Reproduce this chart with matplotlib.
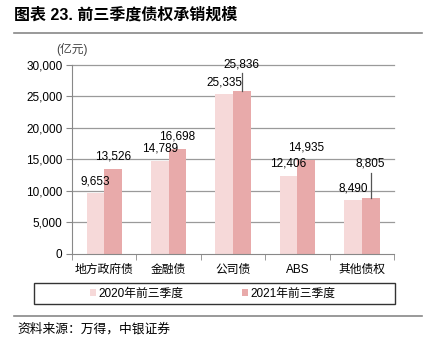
import matplotlib.pyplot as plt
from matplotlib.patches import Rectangle
import numpy as np

plt.rcParams["font.family"] = ["Liberation Sans", "Noto Sans CJK SC"]

categories = ["地方政府债", "金融债", "公司债", "ABS", "其他债权"]
values_2020 = [9653, 14789, 25335, 12406, 8490]
values_2021 = [13526, 16698, 25836, 14935, 8805]
series_names = ["2020年前三季度", "2021年前三季度"]
yticks = [0, 5000, 10000, 15000, 20000, 25000, 30000]

C_2020 = "#F6D9D9"
C_2021 = "#E8AAAA"

fig = plt.figure(figsize=(4.34, 3.45), dpi=100)
ax = fig.add_axes([0.166, 0.264, 0.742, 0.548])

x = np.arange(len(categories))
w = 0.275
b1 = ax.bar(x - w / 2, values_2020, w, color=C_2020, zorder=2)
b2 = ax.bar(x + w / 2, values_2021, w, color=C_2021, zorder=2)

# 数据标签（标签中心距柱顶约 1900）
off = 1900
for i, (v1, v2) in enumerate(zip(values_2020, values_2021)):
    ax.text(x[i] - w / 2, v1 + off, f"{v1:,}", ha="center", va="center",
            fontsize=8.5, zorder=3)
    y2 = v2 + off
    if i == 2:
        # 公司债：标签上移，加引线
        y2 = v2 + 4150
        ax.plot([x[i] + w / 2] * 2, [v2, v2 + 2850], color="#555555",
                lw=0.9, zorder=3)
    elif i == 4:
        # 其他债权：标签上移，加引线
        y2 = v2 + 5550
        ax.plot([x[i] + w / 2] * 2, [v2, v2 + 4100], color="#555555",
                lw=0.9, zorder=3)
    ax.text(x[i] + w / 2, y2, f"{v2:,}", ha="center", va="center",
            fontsize=8.5, zorder=3)

ax.set_xlim(-0.5, len(categories) - 0.5)
ax.set_ylim(0, 30000)
ax.set_yticks(yticks)
ax.set_yticklabels([f"{t:,}" for t in yticks], fontsize=8.5)
ax.set_xticks(x)
ax.set_xticklabels(categories, fontsize=8.5)
ax.set_xticks(np.arange(len(categories) + 1) - 0.5, minor=True)
ax.tick_params(axis="x", which="major", length=0, pad=7)
ax.tick_params(axis="x", which="minor", length=4, color="#888888")
ax.tick_params(axis="y", length=4, color="#888888", pad=3)

for t in yticks[1:]:
    ax.axhline(t, color="#9a9a9a", lw=0.9, zorder=0, clip_on=False)
for s in ["top", "right"]:
    ax.spines[s].set_visible(False)
ax.spines["left"].set_color("#888888")
ax.spines["bottom"].set_color("#888888")

ax.text(0.0, 1.08, "(亿元)", transform=ax.transAxes, fontsize=8.5,
        color="#444444", ha="center", va="center")

# 图例：外框单独画
fig.add_artist(Rectangle((34 / 434, 0.119), 361 / 434, 0.061,
                         transform=fig.transFigure, fill=False,
                         edgecolor="#333333", lw=1.0))
fig.legend([b1, b2], series_names, loc="center",
           bbox_to_anchor=(0.49, 0.149), ncol=2,
           fontsize=8.5, frameon=False,
           handlelength=0.55, handleheight=0.55, handletextpad=0.2,
           columnspacing=4.9, borderpad=0.2)

# 标题与来源
fig.text(0.032, 0.957, "图表 23. 前三季度债权承销规模", fontsize=11.5,
         fontweight="bold", va="center", ha="left")
fig.add_artist(plt.Line2D([0.032, 0.972], [0.904, 0.904], color="#888888",
                          lw=1.2))
fig.add_artist(plt.Line2D([0.032, 0.972], [0.084, 0.084], color="#888888",
                          lw=1.2))
fig.text(0.039, 0.046, "资料来源：万得，中银证券", fontsize=9.2,
         style="italic", va="center", ha="left")

fig.savefig("out.png", dpi=100)
